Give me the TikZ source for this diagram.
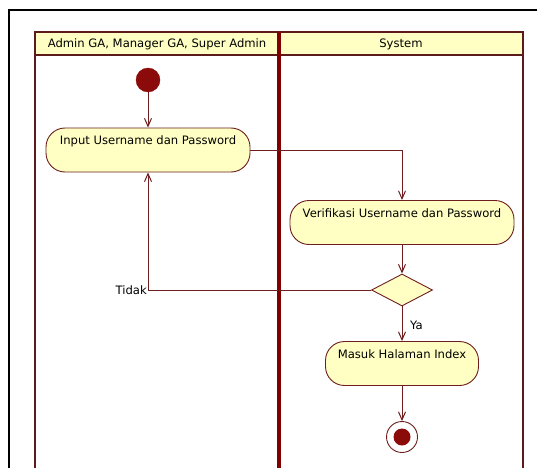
\documentclass[tikz,border=0pt]{standalone}
\usepackage{fontspec}
\setmainfont{DejaVu Sans}
\usetikzlibrary{arrows.meta,shapes.geometric}

\definecolor{lanered}{RGB}{128,0,0}
\definecolor{laneline}{RGB}{92,26,26}
\definecolor{flowline}{RGB}{110,30,30}
\definecolor{actfill}{RGB}{255,255,196}
\definecolor{startfill}{RGB}{139,10,10}

\tikzset{
  flow/.style={draw=flowline, line width=1pt,
    -{Straight Barb[length=8pt,width=7pt]}},
  activity/.style={draw=flowline, line width=0.9pt, fill=actfill,
    rectangle, rounded corners=19pt, inner xsep=0pt, inner ysep=0pt,
    text height=16.5pt, text depth=27.5pt, minimum height=44pt,
    font=\fontsize{11.6}{13}\selectfont},
  decision/.style={draw=flowline, line width=0.9pt, fill=actfill,
    diamond, aspect=1.9, inner sep=0pt,
    minimum width=61pt, minimum height=32pt},
  lanetitle/.style={font=\fontsize{11.6}{13}\selectfont, inner sep=0pt},
  guard/.style={font=\fontsize{11.6}{13}\selectfont, inner sep=0pt}
}

\begin{document}
\begin{tikzpicture}[x=1pt,y=-1pt]
\useasboundingbox (0,0) rectangle (537,468);
\fill[white] (0,0) rectangle (537,468);

% outer frame
\draw[black, line width=2.4pt] (9,468) -- (9,10) -- (537,10);

% swimlanes
\fill[actfill] (35,32) rectangle (523,55);
\draw[laneline, line width=1.3pt] (35,468) -- (35,32) -- (523,32) -- (523,468);
\draw[laneline, line width=1.3pt] (35,55) -- (523,55);
\draw[lanered, line width=3.6pt] (279,32) -- (279,468);
\node[lanetitle] (laneA) at (157,44) {Admin GA, Manager GA, Super Admin};
\node[lanetitle] (laneB) at (401,44) {System};

% start
\node[circle, fill=startfill, draw=startfill, minimum size=24pt, inner sep=0pt]
  (start) at (148,80) {};

% activities
\node[activity, minimum width=204pt] (input) at (148,150) {Input Username dan Password};
\node[activity, minimum width=224pt] (verif) at (402,222.5) {Verifikasi Username dan Password};
\node[decision] (dec) at (402,290) {};
\node[activity, minimum width=153pt] (masuk) at (402,363.5) {Masuk Halaman Index};

% end
\node[circle, draw=flowline, line width=0.9pt, fill=white, minimum size=31pt, inner sep=0pt]
  (finish) at (402,437) {};
\node[circle, fill=startfill, minimum size=17pt, inner sep=0pt] (finishdot) at (finish) {};

% flows
\draw[flow] (start) -- (input);
\draw[flow] (input.east) -| (verif.north);
\draw[flow] (verif) -- (dec);
\draw[flow] (dec.west) -| coordinate (tcorner) (input.south);
\node[guard, anchor=east] (tidak) at ([xshift=-1pt]tcorner) {Tidak};
\draw[flow] (dec) -- (masuk);
\node[guard, anchor=west] (ya) at (410,325) {Ya};
\draw[flow] (masuk) -- (finish);
\end{tikzpicture}
\end{document}
